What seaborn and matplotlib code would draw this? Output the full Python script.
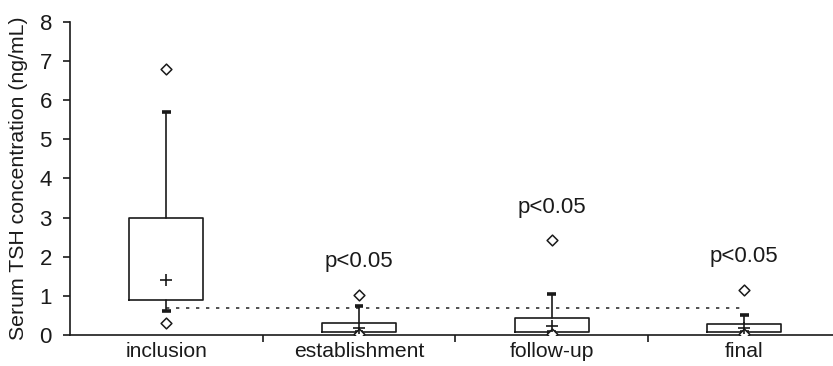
import matplotlib
matplotlib.use("Agg")
import matplotlib.pyplot as plt
import seaborn as sns
import pandas as pd
import numpy as np

# ---- data ----
categories = ["inclusion", "establishment", "follow-up", "final"]
q1 = [0.90, 0.07, 0.07, 0.07]
q3 = [3.00, 0.31, 0.43, 0.28]
whisker_low = [0.60, 0.07, 0.07, 0.07]
whisker_high = [5.70, 0.73, 1.05, 0.51]
means = [1.40, 0.17, 0.23, 0.17]
outlier_high = [6.80, 1.03, 2.43, 1.15]
outlier_low = [0.30, 0.03, 0.03, 0.03]
p_labels = ["", "p<0.05", "p<0.05", "p<0.05"]
p_label_y = [np.nan, 1.87, 3.25, 2.0]
reference_level = 0.70
y_ticks = [0, 1, 2, 3, 4, 5, 6, 7, 8]
y_label = "Serum TSH concentration (ng/mL)"

sns.set_theme(style="white")
plt.rcParams["font.family"] = ["Liberation Sans", "DejaVu Sans"]
ink = "#1a1a1a"

fig = plt.figure(figsize=(8.33, 3.66), dpi=100)
ax = fig.add_axes([0.084, 0.085, 0.916, 0.855])

pos = np.arange(len(categories))
stats = []
for i, c in enumerate(categories):
    stats.append(dict(label=c, q1=q1[i], q3=q3[i], med=q1[i],
                      whislo=whisker_low[i], whishi=whisker_high[i],
                      mean=means[i], fliers=[]))

ax.bxp(stats, positions=pos, widths=0.385, showmeans=False, showfliers=False,
       patch_artist=False, capwidths=0.045,
       boxprops=dict(color=ink, linewidth=1.2),
       whiskerprops=dict(color=ink, linewidth=1.2),
       capprops=dict(color=ink, linewidth=2.6, solid_capstyle="butt"),
       medianprops=dict(linewidth=0))

# reference dotted line
ax.plot([pos[0], pos[-1]], [reference_level, reference_level],
        linestyle=(0, (2, 4)), color="#333333", linewidth=1.2, zorder=1)

pts = pd.DataFrame({
    "x": np.concatenate([pos, pos]),
    "y": outlier_high + outlier_low,
})
sns.scatterplot(data=pts, x="x", y="y", marker="D", s=30, facecolor="white",
                edgecolor=ink, linewidth=1.1, ax=ax, zorder=5)
mdf = pd.DataFrame({"x": pos, "y": means})
sns.scatterplot(data=mdf, x="x", y="y", marker="+", s=80, color=ink,
                linewidth=1.2, ax=ax, zorder=5)

for i, (lab, yy) in enumerate(zip(p_labels, p_label_y)):
    if lab:
        ax.text(pos[i], yy, lab, ha="center", va="center", fontsize=16, color=ink)

ax.set_xlim(-0.5, 3.46)
ax.set_ylim(0, 8)
ax.set_yticks(y_ticks)
ax.set_yticklabels([str(t) for t in y_ticks], fontsize=16, color=ink)
ax.set_xticks(pos)
ax.set_xticklabels(categories, fontsize=15.2, color=ink)
ax.set_xticks(pos[:-1] + 0.5, minor=True)
ax.tick_params(axis="x", which="major", length=0, pad=5)
ax.tick_params(axis="x", which="minor", length=5, width=1.2, color=ink, direction="out", bottom=True)
ax.tick_params(axis="y", which="major", length=5, width=1.2, color=ink, direction="out", left=True, pad=8)
ax.set_xlabel("")
ax.set_ylabel(y_label, fontsize=15.3, color=ink)
ax.yaxis.set_label_coords(-0.055, 0.5)

for s in ["top", "right"]:
    ax.spines[s].set_visible(False)
for s in ["left", "bottom"]:
    ax.spines[s].set_color(ink)
    ax.spines[s].set_linewidth(1.2)

fig.savefig("out.png", dpi=100)
